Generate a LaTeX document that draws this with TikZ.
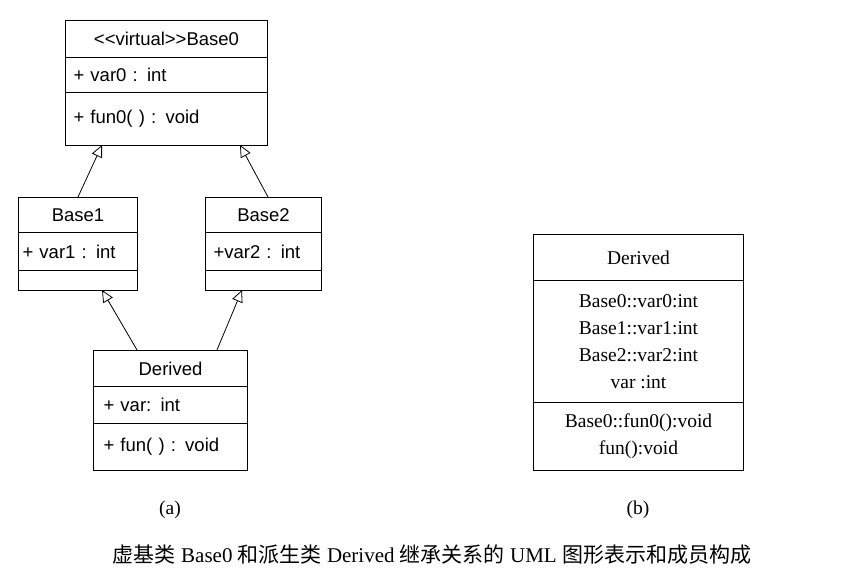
\documentclass[tikz,border=0pt]{standalone}
\usepackage{fontspec}
\setmainfont{Liberation Serif}
\newfontfamily\sa{Liberation Sans}
\newfontfamily\cjk{Noto Sans CJK SC}
\usetikzlibrary{arrows.meta}
\begin{document}
\begin{tikzpicture}[x=1pt,y=-1pt,
 cell/.style={draw,line width=1pt,inner sep=0pt,anchor=north west,font=\sa\fontsize{18.5}{20}\selectfont},
 cellb/.style={draw,line width=1pt,inner sep=0pt,anchor=north west,font=\fontsize{19.5}{27}\selectfont,align=center},
 inh/.style={draw,line width=0.8pt,-{Triangle[open,width=11pt,length=12pt]}}]
\useasboundingbox (0,0) rectangle (865,580);
\fill[white] (0,0) rectangle (865,580);
% Base0
\node[cell,minimum width=202pt,minimum height=37pt] (b0t) at (65,20) {<{}<virtual>{}>Base0};
\node[cell,minimum width=202pt,minimum height=35pt,text width=194pt] (b0a) at (65,57) {\hspace*{4pt}+ var0 : int};
\node[cell,minimum width=202pt,minimum height=53pt,text width=194pt] (b0m) at (65,92) {\hspace*{4pt}+ fun0( ) : void};
% Base1
\node[cell,minimum width=119pt,minimum height=35pt] (b1t) at (18,197) {Base1};
\node[cell,minimum width=119pt,minimum height=38pt,text width=115pt] (b1a) at (18,232) {\hspace*{2pt}+ var1 : int};
\node[cell,minimum width=119pt,minimum height=20pt] (b1m) at (18,270) {};
% Base2
\node[cell,minimum width=116pt,minimum height=35pt] (b2t) at (205,197) {Base2};
\node[cell,minimum width=116pt,minimum height=38pt,text width=112pt] (b2a) at (205,232) {\hspace*{6pt}+var2 : int};
\node[cell,minimum width=116pt,minimum height=20pt] (b2m) at (205,270) {};
% Derived (a)
\node[cell,minimum width=154pt,minimum height=36pt] (dt) at (93,350) {Derived};
\node[cell,minimum width=154pt,minimum height=37pt,text width=146pt] (da) at (93,386) {\hspace*{6pt}+ var: int};
\node[cell,minimum width=154pt,minimum height=47pt,text width=146pt] (dm) at (93,423) {\hspace*{6pt}+ fun( ) : void};
% Derived (b)
\node[cellb,minimum width=210pt,minimum height=46pt] (et) at (533,234) {Derived};
\node[cellb,minimum width=210pt,minimum height=122pt] (ea) at (533,280) {Base0::var0:int\\Base1::var1:int\\Base2::var2:int\\var :int};
\node[cellb,minimum width=210pt,minimum height=68pt] (em) at (533,402) {Base0::fun0():void\\fun():void};
% inheritance
\coordinate (p1) at (78,197); \coordinate (q1) at (102,145);
\coordinate (p2) at (268,197); \coordinate (q2) at (240,145);
\coordinate (p3) at (137,350); \coordinate (q3) at (102,290);
\coordinate (p4) at (217,350); \coordinate (q4) at (242,290);
\draw[inh] (p1) -- (q1);
\draw[inh] (p2) -- (q2);
\draw[inh] (p3) -- (q3);
\draw[inh] (p4) -- (q4);
\node[font=\fontsize{19.5}{20}\selectfont] (la) at (170,510) {(a)};
\node[font=\fontsize{19.5}{20}\selectfont] (lb) at (638,510) {(b)};
\node[font=\fontsize{21}{24}\selectfont] (cap) at (432,555) {{\cjk 虚基类} Base0 {\cjk 和派生类} Derived {\cjk 继承关系的} UML {\cjk 图形表示和成员构成}};
\end{tikzpicture}
\end{document}
